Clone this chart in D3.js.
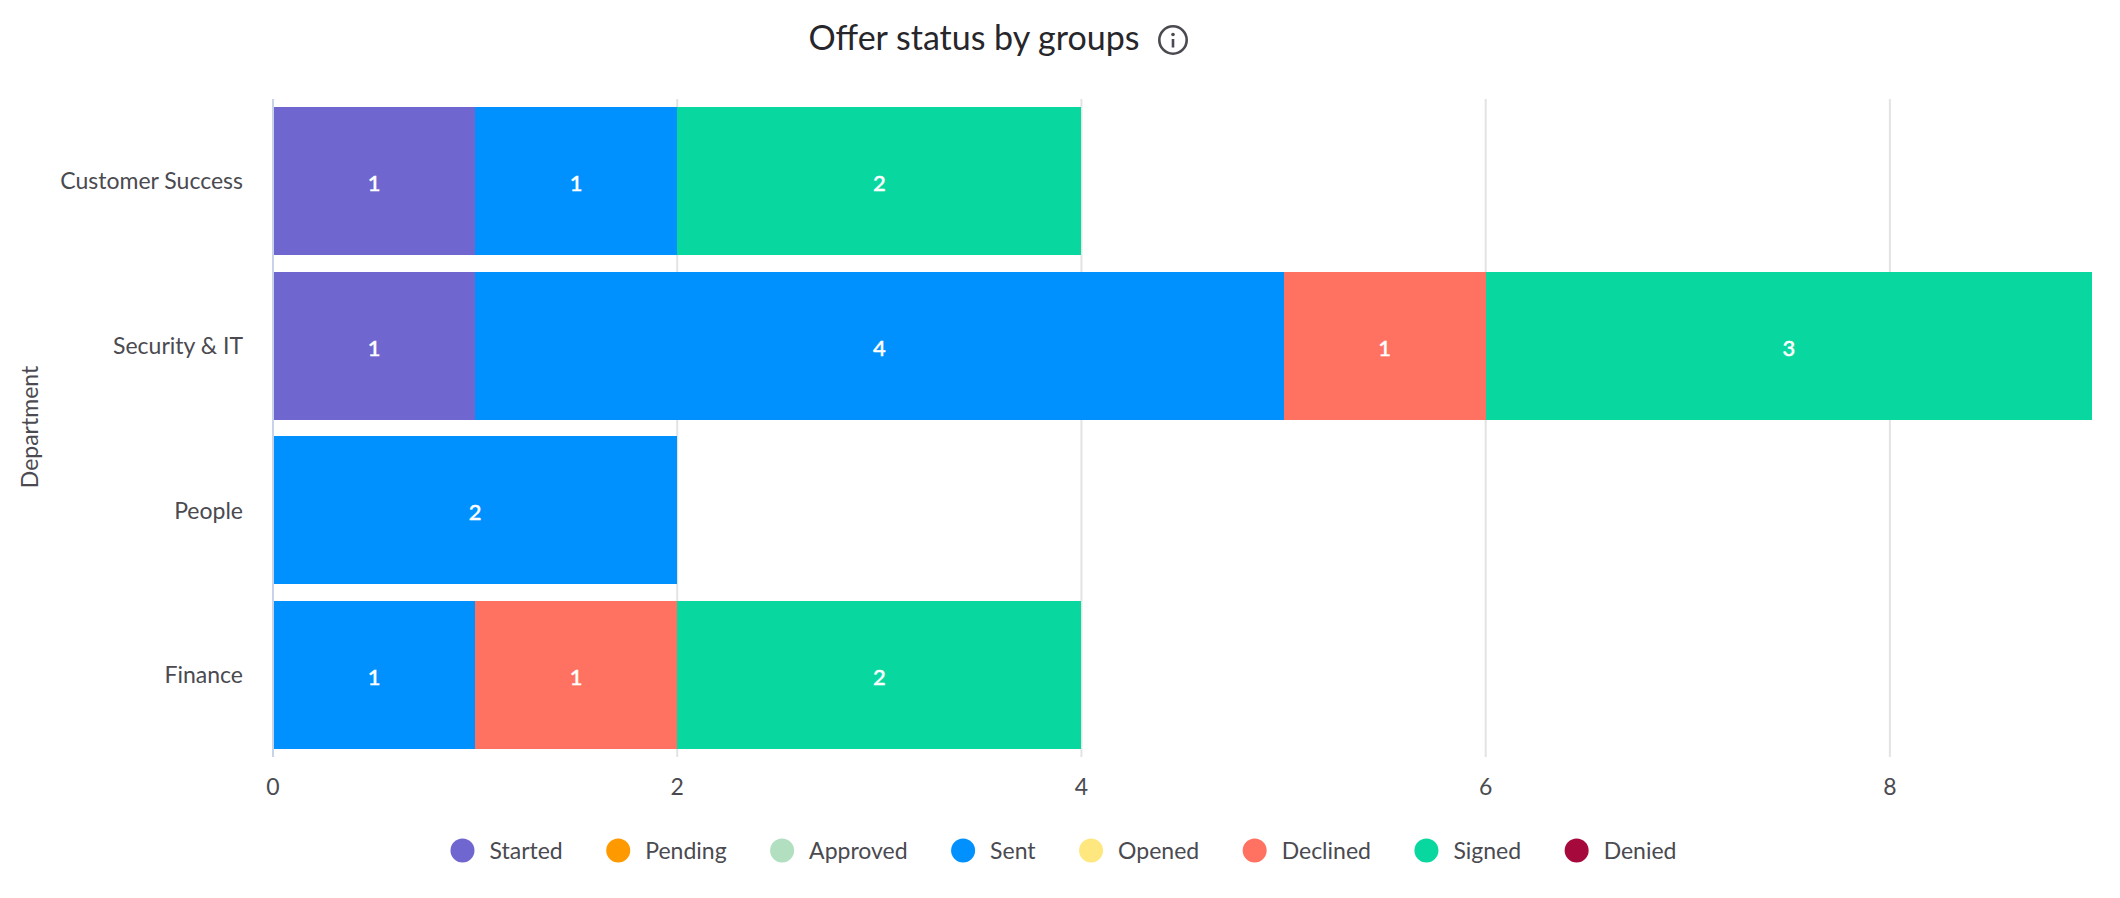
<!DOCTYPE html>
<html>
<head>
<meta charset="utf-8">
<title>Offer status by groups</title>
<script src="https://cdn.jsdelivr.net/npm/d3@7"></script>
<style>
  html, body { margin: 0; padding: 0; background: #fff; }
  text { font-family: "Lato", "Noto Sans", sans-serif; fill: #4a4a50; }
  .grid line { stroke: #e3e3e3; stroke-width: 2; }
  .grid path, .axis path, .axis line { display: none; }
  .axis text { font-size: 23px; fill: #4a4a50; }
  .value { font-size: 22px; font-weight: 500; fill: #fff; stroke: #fff; stroke-width: 0.4; text-anchor: middle; }
  .legend text { font-size: 23px; }
  rect { shape-rendering: crispEdges; }
</style>
</head>
<body>
<svg id="chart" width="2120" height="898"></svg>
<script>
// chart values
const departments = ["Customer Success", "Security & IT", "People", "Finance"];
const statuses = ["Started", "Pending", "Approved", "Sent", "Opened", "Declined", "Signed", "Denied"];
const statusColors = ["#7066cf", "#ff9900", "#b1dfc0", "#0091ff", "#ffe77f", "#ff7262", "#08d8a0", "#a60a3d"];
const started  = [1, 1, 0, 0];
const pending  = [0, 0, 0, 0];
const approved = [0, 0, 0, 0];
const sent     = [1, 4, 2, 1];
const opened   = [0, 0, 0, 0];
const declined = [0, 1, 0, 1];
const signed   = [2, 3, 0, 2];
const denied   = [0, 0, 0, 0];
const xTicks = [0, 2, 4, 6, 8];

const seriesValues = [started, pending, approved, sent, opened, declined, signed, denied];

const rows = departments.map((name, i) => {
    const row = {department: name};
    statuses.forEach((s, j) => { row[s] = seriesValues[j][i]; });
    return row;
});

const svg = d3.select("#chart");

const plotTop = 99, plotBottom = 757;

const xScale = d3.scaleLinear().domain([0, 9]).range([273, 2092]);
const yScale = d3.scaleBand()
      .domain(departments)
      .range([98.7, 757.4])
      .paddingInner(0.1)
      .paddingOuter(0.05);
const color = d3.scaleOrdinal().domain(statuses).range(statusColors);

const stacked = d3.stack().keys(statuses)(rows);

// title + info icon
svg.append("text")
    .attr("x", 974).attr("y", 50)
    .attr("text-anchor", "middle")
    .style("font-size", "34px")
    .style("fill", "#26262b")
    .text("Offer status by groups");

const info = svg.append("g").attr("transform", "translate(1173,40)");
info.append("circle").attr("r", 13.7).attr("fill", "none").attr("stroke", "#4a4a50").attr("stroke-width", 2.6);
info.append("circle").attr("cy", -5.5).attr("r", 1.8).attr("fill", "#4a4a50");
info.append("line").attr("y1", -1).attr("y2", 7.5).attr("stroke", "#4a4a50").attr("stroke-width", 2.6);

// gridlines
svg.append("g").attr("class", "grid")
    .attr("transform", "translate(0," + plotBottom + ")")
    .call(d3.axisBottom(xScale).tickValues(xTicks.slice(1)).tickSize(plotTop - plotBottom).tickFormat("").offset(0));

// bars
const layers = svg.append("g").selectAll("g")
      .data(stacked)
      .join("g")
      .attr("fill", d => color(d.key));

layers.selectAll("rect")
    .data(d => d.map((p, i) => ({p: p, department: departments[i]})).filter(e => e.p[1] > e.p[0]))
    .join("rect")
    .attr("x", d => xScale(d.p[0]))
    .attr("y", d => yScale(d.department))
    .attr("width", d => xScale(d.p[1]) - xScale(d.p[0]))
    .attr("height", yScale.bandwidth());

layers.selectAll("text")
    .data(d => d.map((p, i) => ({p: p, department: departments[i]})).filter(e => e.p[1] > e.p[0]))
    .join("text")
    .attr("class", "value")
    .attr("x", d => xScale((d.p[0] + d.p[1]) / 2))
    .attr("y", d => yScale(d.department) + yScale.bandwidth() / 2 + 10)
    .text(d => d.p[1] - d.p[0]);

// baseline at zero sits over the bars
svg.append("line")
    .attr("x1", xScale(0)).attr("x2", xScale(0))
    .attr("y1", plotTop).attr("y2", plotBottom)
    .attr("stroke", "#c8d3ea")
    .attr("stroke-width", 2);

// axes
svg.append("g").attr("class", "axis")
    .attr("transform", "translate(0," + plotBottom + ")")
    .call(d3.axisBottom(xScale).tickValues(xTicks).tickSize(0).tickPadding(22).offset(0));

svg.append("g").attr("class", "axis")
    .attr("transform", "translate(243,0)")
    .call(d3.axisLeft(yScale).tickSize(0).tickPadding(0))
    .selectAll("text").attr("dy", "0.36em");

svg.append("text")
    .attr("transform", "translate(38,427) rotate(-90)")
    .attr("text-anchor", "middle")
    .style("font-size", "23px")
    .text("Department");

// legend, laid out from the measured text widths
const legend = svg.append("g").attr("class", "legend");
const items = legend.selectAll("g").data(statuses).join("g");
items.append("circle").attr("r", 12).attr("cx", 12).attr("fill", d => color(d));
items.append("text").attr("x", 39).attr("y", 8).text(d => d);

let legendX = 0;
items.each(function() {
    const node = d3.select(this);
    node.attr("transform", "translate(" + legendX + ",850.5)");
    legendX += 39 + node.select("text").node().getComputedTextLength() + 43.5;
});
legend.attr("transform", "translate(" + (1063.5 - (legendX - 43.5) / 2) + ",0)");
</script>
</body>
</html>
